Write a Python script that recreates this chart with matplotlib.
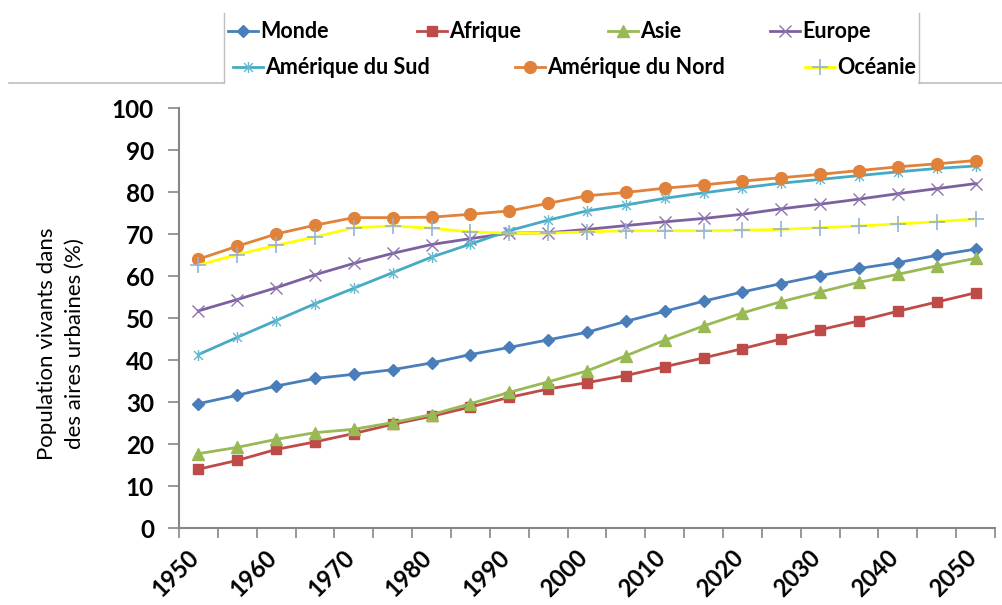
import matplotlib
matplotlib.use("Agg")
import matplotlib.pyplot as plt
import matplotlib.transforms as mtransforms
from matplotlib.path import Path
from matplotlib.lines import Line2D

years = list(range(1950, 2051, 5))
monde = [29.6, 31.6, 33.8, 35.6, 36.6, 37.7, 39.3, 41.3, 43.0, 44.8, 46.6,
         49.2, 51.6, 54.0, 56.2, 58.2, 60.1, 61.8, 63.2, 64.9, 66.4]
afrique = [14.0, 16.1, 18.7, 20.5, 22.5, 24.7, 26.6, 28.8, 31.1, 33.1, 34.6,
           36.3, 38.4, 40.5, 42.7, 45.0, 47.2, 49.3, 51.6, 53.8, 56.0]
asie = [17.7, 19.2, 21.1, 22.7, 23.5, 25.1, 27.0, 29.6, 32.3, 34.8, 37.4,
        41.0, 44.7, 48.1, 51.2, 53.9, 56.2, 58.5, 60.4, 62.4, 64.2]
europe = [51.7, 54.4, 57.2, 60.3, 63.0, 65.4, 67.5, 68.9, 70.2, 70.3, 71.1,
          72.0, 72.9, 73.7, 74.7, 76.0, 77.1, 78.3, 79.6, 80.8, 82.0]
am_sud = [41.3, 45.4, 49.4, 53.4, 57.1, 60.8, 64.5, 67.6, 70.8, 73.3, 75.5,
          76.9, 78.5, 79.8, 81.0, 82.1, 83.0, 83.9, 84.8, 85.6, 86.2]
am_nord = [64.0, 67.1, 70.0, 72.1, 73.9, 73.9, 74.0, 74.7, 75.5, 77.3, 79.1,
           79.9, 80.9, 81.7, 82.6, 83.4, 84.2, 85.1, 86.0, 86.7, 87.5]
oceanie = [62.6, 65.1, 67.3, 69.3, 71.5, 71.9, 71.4, 70.5, 70.2, 70.2, 70.5,
           70.8, 70.8, 70.8, 70.9, 71.1, 71.5, 71.9, 72.4, 72.9, 73.6]
series_names = ["Monde", "Afrique", "Asie", "Europe",
                "Amérique du Sud", "Amérique du Nord", "Océanie"]
x_labels = [str(y) for y in range(1950, 2051, 10)]
y_ticks = list(range(0, 101, 10))

FONT = "Lato"
W, H = 1002, 605
fig = plt.figure(figsize=(W / 100, H / 100), dpi=100)
ax = fig.add_axes([179 / W, 1 - 528 / H, (995 - 179) / W, (528 - 108) / H])

star = Path([(-1, -1), (1, 1), (-1, 1), (1, -1), (0, -1.25), (0, 1.25)],
            [Path.MOVETO, Path.LINETO, Path.MOVETO, Path.LINETO, Path.MOVETO, Path.LINETO])

styles = [
    dict(color="#4A7EBB", marker="D", ms=6.5, mfc="#4A7EBB", mec="#4A7EBB"),
    dict(color="#BE4B48", marker="s", ms=7.5, mfc="#BE4B48", mec="#BE4B48"),
    dict(color="#98B954", marker="^", ms=8, mfc="#98B954", mec="#98B954"),
    dict(color="#7D60A0", marker="x", ms=8, mfc="none", mec="#8C74AE", mew=1.0),
    dict(color="#46AAC5", marker=star, ms=8, mfc="none", mec="#66B8D0", mew=1.0),
    dict(color="#E0823A", marker="o", ms=8.5, mfc="#E0823A", mec="#E0823A"),
    dict(color="#FFFF00", marker="+", ms=11, mfc="none", mec="#95B3D7", mew=1.2),
]
data = [monde, afrique, asie, europe, am_sud, am_nord, oceanie]
xs = list(range(len(years)))
for vals, st in zip(data, styles):
    ax.plot(xs, vals, lw=2.0, solid_joinstyle="round", **st)

ax.set_xlim(-0.5, len(years) - 0.5)
ax.set_ylim(0, 100)
ax.set_yticks(y_ticks)
ax.set_yticklabels([str(v) for v in y_ticks], fontfamily=FONT, fontweight="bold", fontsize=17.5)
ax.tick_params(axis="y", length=8, width=1.2, color="#868686", pad=10)

ax.set_xticks([i - 0.5 for i in range(len(years) + 1)])
ax.set_xticklabels([])
ax.tick_params(axis="x", which="major", length=7, width=1.2, color="#868686")
ax.set_xticks(list(range(0, len(years), 2)), minor=True)
ax.set_xticklabels(x_labels, minor=True, rotation=45, ha="right", va="top",
                   fontfamily=FONT, fontweight="bold", fontsize=17)
ax.tick_params(axis="x", which="minor", length=0, pad=13)
shift = mtransforms.ScaledTranslation(5 / 100, 0, fig.dpi_scale_trans)
for lab in ax.get_xticklabels(minor=True):
    lab.set_transform(lab.get_transform() + shift)

for s in ["top", "right"]:
    ax.spines[s].set_visible(False)
for s in ["left", "bottom"]:
    ax.spines[s].set_color("#868686")
    ax.spines[s].set_linewidth(1.5)

fig.text(61 / W, 1 - 344 / H, "Population vivants dans\ndes aires urbaines (%)",
         rotation=90, ha="center", va="center", multialignment="center",
         fontfamily=FONT, fontsize=16, linespacing=1.5)

# Legend overlay (pixel coordinates)
lg = fig.add_axes([0, 0, 1, 1], zorder=5)
lg.set_xlim(0, W)
lg.set_ylim(H, 0)
lg.axis("off")
lg.patch.set_alpha(0)
lg.add_line(Line2D([9, 224], [83, 83], color="#BFBFBF", lw=1.2))
lg.add_line(Line2D([919, W], [83, 83], color="#BFBFBF", lw=1.2))
lg.add_line(Line2D([224, 224], [13, 83], color="#BFBFBF", lw=1.0))
lg.add_line(Line2D([919, 919], [13, 83], color="#BFBFBF", lw=1.0))

entries = [(228, 31), (417, 31), (608, 31), (770, 31),
           (233, 67), (515, 67), (805, 67)]
for (x0, y0), name, st in zip(entries, series_names, styles):
    lg.plot([x0, x0 + 30], [y0, y0], lw=2.0, color=st["color"])
    mst = {k: v for k, v in st.items() if k != "color"}
    lg.plot([x0 + 15], [y0], ls="none", **mst)
    lg.text(x0 + 32, y0, name, ha="left", va="center", fontfamily=FONT,
            fontweight="bold", fontsize=15.5)

fig.savefig("out.png", dpi=100)
